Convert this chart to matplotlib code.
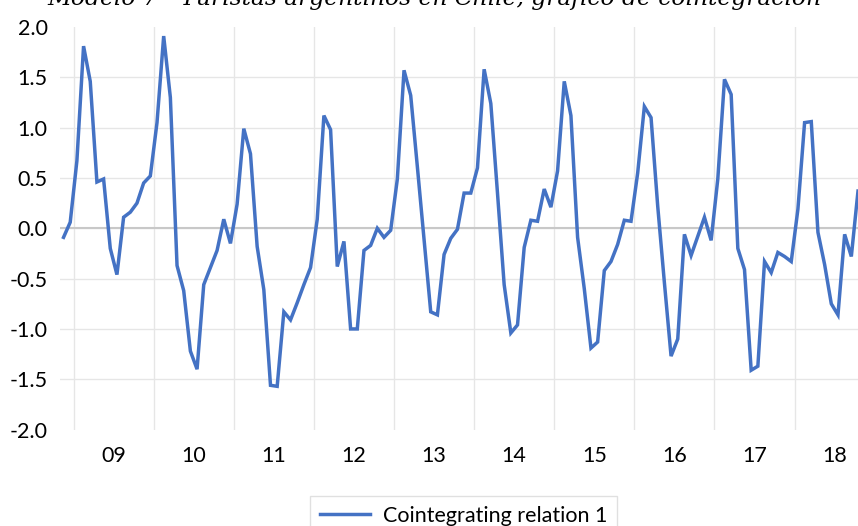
import matplotlib
matplotlib.use("Agg")
import matplotlib.pyplot as plt
import numpy as np

# monthly cointegrating relation, Nov 2008 .. Oct 2018
relation = [
    -0.09, 0.06,
    0.67, 1.81, 1.46, 0.46, 0.49, -0.20, -0.46, 0.11, 0.16, 0.25, 0.45, 0.52,
    1.05, 1.91, 1.30, -0.37, -0.62, -1.22, -1.40, -0.56, -0.39, -0.22, 0.09, -0.15,
    0.24, 0.99, 0.74, -0.18, -0.61, -1.56, -1.57, -0.83, -0.91, -0.74, -0.56, -0.39,
    0.09, 1.12, 0.98, -0.38, -0.13, -1.00, -1.00, -0.22, -0.17, 0.00, -0.09, -0.02,
    0.49, 1.57, 1.32, 0.61, -0.11, -0.83, -0.86, -0.26, -0.10, -0.01, 0.35, 0.35,
    0.60, 1.58, 1.24, 0.35, -0.56, -1.04, -0.96, -0.19, 0.08, 0.07, 0.39, 0.21,
    0.57, 1.46, 1.12, -0.09, -0.60, -1.19, -1.13, -0.42, -0.33, -0.16, 0.08, 0.07,
    0.55, 1.21, 1.10, 0.22, -0.54, -1.27, -1.10, -0.06, -0.27, -0.08, 0.11, -0.12,
    0.49, 1.48, 1.33, -0.20, -0.41, -1.41, -1.37, -0.33, -0.44, -0.24, -0.28, -0.33,
    0.19, 1.05, 1.06, -0.04, -0.36, -0.75, -0.86, -0.06, -0.28, 0.37,
]
year_labels = ["09", "10", "11", "12", "13", "14", "15", "16", "17", "18"]
y_ticks = [-2.0, -1.5, -1.0, -0.5, 0.0, 0.5, 1.0, 1.5, 2.0]
title = "Modelo 7 - Turistas argentinos en Chile, gráfico de cointegración"
series_name = "Cointegrating relation 1"

plt.rcParams["font.family"] = ["Lato", "DejaVu Sans"]

W, H = 858, 526
fig = plt.figure(figsize=(W / 100, H / 100), dpi=100)
left, top, bottom = 60.2, 27.0, 429.6
ax = fig.add_axes([left / W, 1 - bottom / H, 1 - left / W, (bottom - top) / H])

x = np.arange(len(relation))
ax.plot(x, relation, color="#4472c4", lw=2.5, solid_joinstyle="miter", zorder=3)

ax.set_xlim(-0.5, 119.0)
ax.set_ylim(-2, 2)

# year boundaries (first month of 2009 is index 2)
ax.set_xticks([1.5 + 12 * k for k in range(10)], minor=True)
ax.set_xticks([7.5 + 12 * k for k in range(len(year_labels))])
ax.set_xticklabels(year_labels, fontsize=15.5)
ax.set_yticks(y_ticks)
ax.set_yticklabels([f"{v:.1f}" for v in y_ticks], fontsize=15.5)
ax.tick_params(axis="both", which="both", length=0)
ax.tick_params(axis="x", pad=12)
ax.tick_params(axis="y", pad=9)

ax.grid(axis="x", which="minor", color="#e6e6e6", lw=1.0)
ax.grid(axis="y", which="major", color="#e6e6e6", lw=1.0)
ygrid = ax.get_ygridlines()
ygrid[0].set_visible(False)
ygrid[-1].set_visible(False)
ax.axhline(0, color="#c8c8c8", lw=1.5, zorder=2)
ax.set_axisbelow(True)
for s in ax.spines.values():
    s.set_visible(False)

# title is partly cut off at the top, as in the source image
fig.text(434.5 / W, 1 - 5 / H, title, ha="center", va="baseline",
         family="DejaVu Serif", style="italic", fontsize=16.8)

fig.legend([ax.lines[0]], [series_name], loc="upper center",
           bbox_to_anchor=(463.5 / W, 1 - 496 / H), fontsize=15.5,
           frameon=True, fancybox=False, edgecolor="#d9d9d9",
           handlelength=2.3, handletextpad=0.6, borderpad=0.45,
           borderaxespad=0)

fig.savefig("out.png", dpi=100)
